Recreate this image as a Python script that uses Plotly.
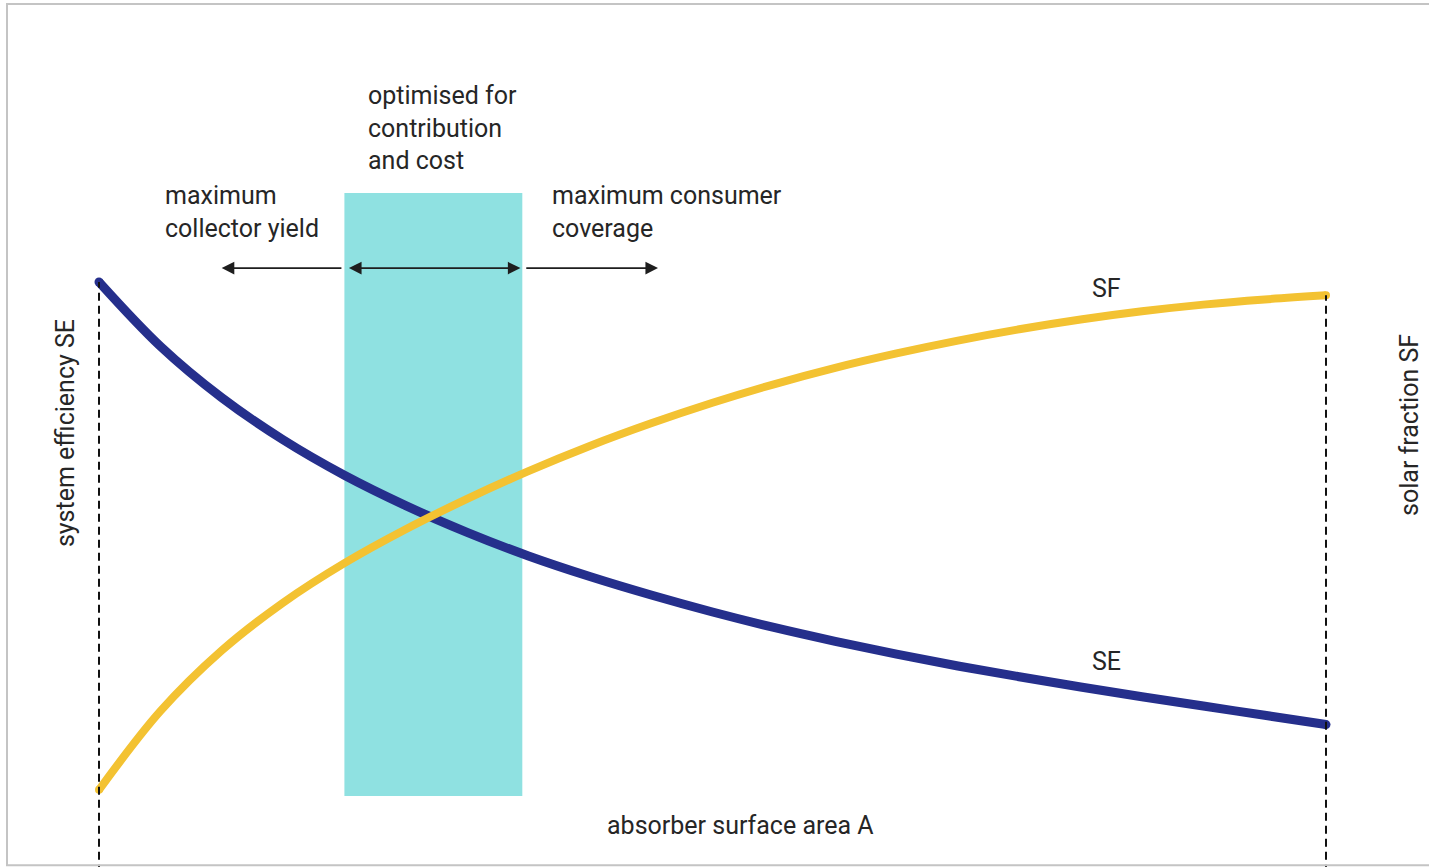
import plotly.graph_objects as go

# absorber surface area (arbitrary units, 0..10)
area = [0, 0.5, 1.0, 1.5, 2.0, 2.5, 3.0, 3.5, 4.0, 4.5, 5.0, 5.5, 6.0, 6.5, 7.0,
        7.5, 8.0, 8.5, 9.0, 9.5, 10.0]
# system efficiency SE (normalised)
se_values = [1.0, 0.875, 0.775, 0.693, 0.624, 0.565, 0.513, 0.467, 0.427, 0.391, 0.358,
             0.328, 0.301, 0.276, 0.253, 0.232, 0.212, 0.193, 0.175, 0.157, 0.139]
# solar fraction SF (normalised)
sf_values = [0.012, 0.165, 0.283, 0.376, 0.453, 0.519, 0.578, 0.632, 0.681, 0.725, 0.765,
             0.801, 0.833, 0.861, 0.886, 0.908, 0.927, 0.943, 0.956, 0.966, 0.974]

# optimised band (area range) and its height
band_x = [2.0, 3.45]
band_top = 1.173

SE_COLOR = "#252f8c"
SF_COLOR = "#f3c232"
BAND_COLOR = "#8fe1e1"
TEXT_COLOR = "#262626"
FONT = "Roboto"

fig = go.Figure()

for vals, col, w in [(se_values, SE_COLOR, 9), (sf_values, SF_COLOR, 8)]:
    fig.add_trace(go.Scatter(x=area, y=vals, mode="lines",
                             line=dict(color=col, width=w, shape="spline", smoothing=1.0),
                             hoverinfo="skip"))
    # rounded line ends
    fig.add_trace(go.Scatter(x=[area[0], area[-1]], y=[vals[0], vals[-1]], mode="markers",
                             marker=dict(color=col, size=w, line=dict(width=0)),
                             hoverinfo="skip"))

shapes = [
    # optimised band
    dict(type="rect", xref="x", yref="y", x0=band_x[0], x1=band_x[1], y0=0, y1=band_top,
         fillcolor=BAND_COLOR, line=dict(width=0), layer="below"),
    # dashed boundaries
    dict(type="line", xref="x", yref="y", x0=area[0], x1=area[0], y0=-0.2, y1=se_values[0],
         line=dict(color="#111111", width=2, dash="8px,5px"), layer="above"),
    dict(type="line", xref="x", yref="y", x0=area[-1], x1=area[-1], y0=-0.2, y1=sf_values[-1],
         line=dict(color="#111111", width=2, dash="8px,5px"), layer="above"),
    # scan frame
    dict(type="rect", xref="paper", yref="paper", x0=0.0049, x1=1.01, y0=0.002, y1=0.9954,
         line=dict(color="#c4c4c4", width=2), fillcolor="rgba(0,0,0,0)", layer="above"),
]

arrow_y = 1.027
ann = []
def arrow(x_head, x_tail, both=False):
    d = dict(x=x_head, y=arrow_y, ax=x_tail, ay=arrow_y, xref="x", yref="y",
             axref="x", ayref="y", text="", showarrow=True, arrowhead=2,
             arrowsize=1.4, arrowwidth=1.8, arrowcolor="#1e1e1e", standoff=0, startstandoff=0)
    if both:
        d.update(arrowside="end+start", startarrowhead=2, startarrowsize=1.4)
    return d

ann.append(arrow(1.0, band_x[0] - 0.012))
ann.append(arrow(band_x[1] - 0.015, band_x[0] + 0.025, both=True))
ann.append(arrow(4.556, band_x[1] + 0.02))

def text(x, y, t, xanchor="left", angle=0, size=25):
    return dict(x=x, y=y, xref="x", yref="y", text=t, showarrow=False, xanchor=xanchor,
                yanchor="middle", align="left", textangle=angle,
                font=dict(family=FONT, size=size, color=TEXT_COLOR))

ann.append(text(2.176, 1.299, "optimised for<br>contribution<br>and cost"))
ann.append(text(0.522, 1.136, "maximum<br>collector yield"))
ann.append(text(3.676, 1.136, "maximum consumer<br>coverage"))
ann.append(text(5.232, -0.058, "absorber surface area A", xanchor="center"))
ann.append(text(8.207, 0.988, "SF", xanchor="center"))
ann.append(text(8.215, 0.261, "SE", xanchor="center"))
ann.append(text(-0.277, 0.706, "system efficiency SE", xanchor="center", angle=-90))
ann.append(text(10.685, 0.722, "solar fraction SF", xanchor="center", angle=-90))

fig.update_layout(
    width=1429, height=867,
    margin=dict(l=0, r=0, t=0, b=0),
    paper_bgcolor="white", plot_bgcolor="white",
    showlegend=False,
    xaxis=dict(range=[-0.8068, 10.8394], visible=False, fixedrange=True),
    yaxis=dict(range=[-0.1381, 1.5486], visible=False, fixedrange=True),
    shapes=shapes,
    annotations=ann,
)

fig.write_html("out.html", config={"displayModeBar": False},
               post_script="document.body.style.margin='0';document.body.style.overflow='hidden';")
